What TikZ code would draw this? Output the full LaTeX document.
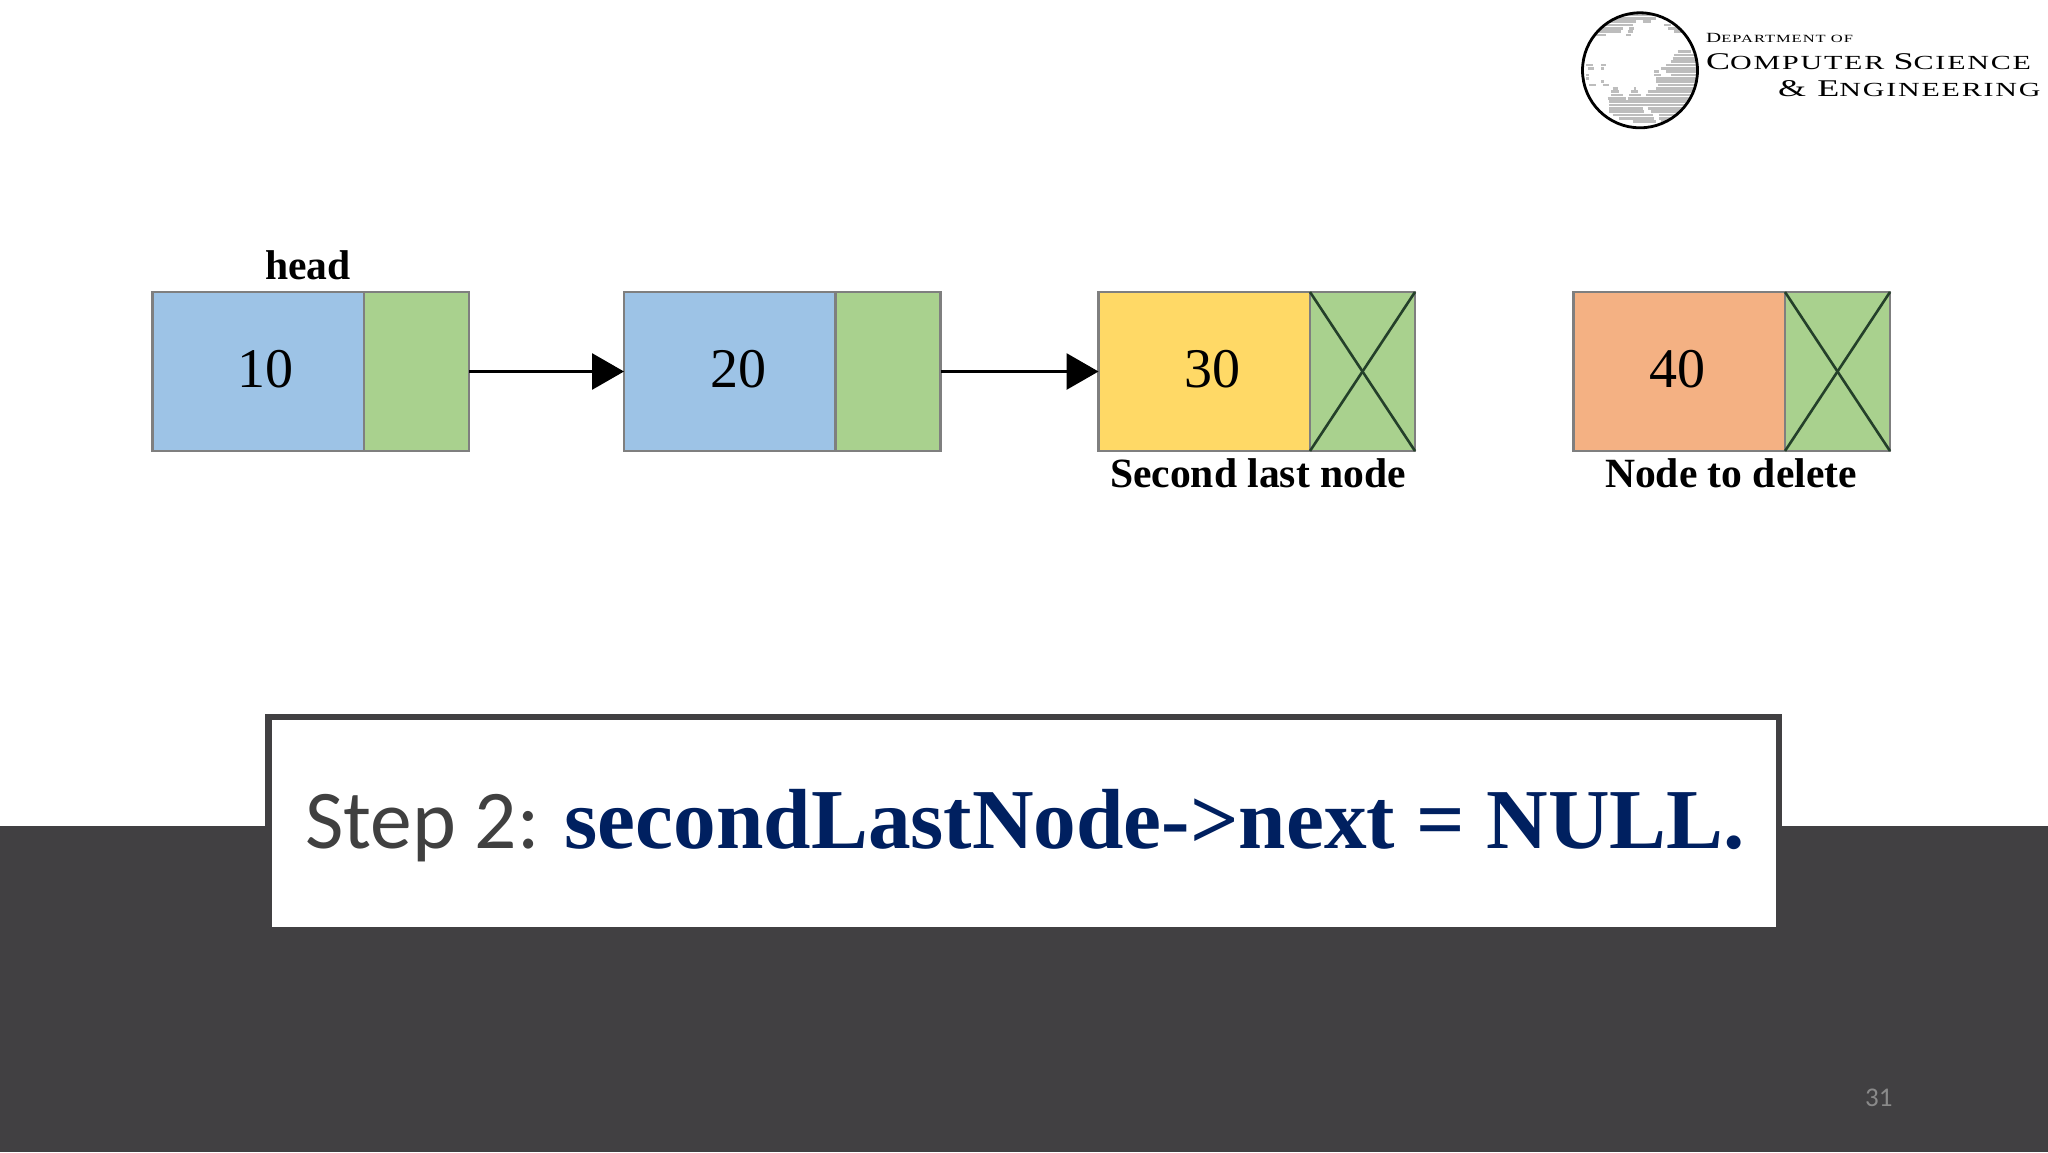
\documentclass[tikz,border=0pt]{standalone}
\usepackage{fontspec}
\usetikzlibrary{arrows.meta}
\setmainfont{Liberation Serif}
\newfontfamily\calfont{Carlito}
\newfontfamily\logofont[FakeStretch=1.5,LetterSpace=9]{Liberation Serif}
\definecolor{band}{HTML}{414042}
\definecolor{bluecell}{HTML}{9DC3E6}
\definecolor{greencell}{HTML}{A9D18E}
\definecolor{yellowcell}{HTML}{FFD966}
\definecolor{orangecell}{HTML}{F4B183}
\definecolor{cellline}{HTML}{7F7F7F}
\definecolor{navy}{HTML}{002060}
\definecolor{stepgray}{HTML}{404040}
\definecolor{pagegray}{HTML}{8A8A8A}
\definecolor{landgray}{HTML}{BDBDBD}
\definecolor{crossline}{HTML}{24402A}
\newcommand{\fs}[1]{\fontsize{#1}{#1}\selectfont}
\tikzset{
  datacell/.style={draw=cellline,line width=2.6pt,anchor=north west,inner sep=0pt,outer sep=0pt,minimum width=211.5pt,minimum height=159pt},
  ptrcell/.style={draw=cellline,line width=2.6pt,fill=greencell,anchor=north west,inner sep=0pt,outer sep=0pt,minimum width=105pt,minimum height=159pt},
  numlabel/.style={font=\fs{56},text=black,inner sep=0pt,anchor=center},
  caption/.style={font=\fs{41.6}\bfseries,text=black,inner sep=0pt,anchor=base},
  link/.style={draw=black,line width=3pt,-{Triangle[length=32pt,width=36pt]}},
  crossed/.style={draw=crossline,line width=2.6pt},
  logotext/.style={inner sep=0pt,anchor=base west,text=black}
}
\begin{document}
\begin{tikzpicture}[x=1pt,y=-1pt]
\useasboundingbox (0,0) rectangle (2048,1152);
\fill[white] (0,0) rectangle (2048,1152);
\fill[band] (0,826) rectangle (2048,1152);

% logo
\begin{scope}
\clip (1640,70.3) circle (57.5pt);
\begin{scope}[shift={(1576,5)},x=0.3333pt,y=-0.3333pt]
\foreach \y/\a/\b in {30/150/230,40/110/240,50/95/180,50/200/225,60/85/170,60/265/285,70/75/140,70/160/175,70/275/310,80/70/135,80/155/170,80/295/320,90/60/90,90/150/165,
140/305/345,150/295/355,160/290/360,170/285/365,180/270/365,180/30/50,180/75/90,190/255/365,190/35/55,190/75/85,200/235/250,200/270/365,210/235/255,210/285/365,210/30/40,220/240/365,220/30/40,230/240/365,230/75/85,240/245/360,240/40/60,240/80/100,
250/110/125,250/175/180,250/240/360,260/105/130,260/165/185,260/215/355,270/105/140,270/160/195,270/210/350,280/95/150,280/155/345,290/100/340,300/100/335,310/100/200,310/215/330,320/100/205,320/225/320,330/110/230,330/250/310,340/130/235,340/250/290,350/170/240,350/255/270}
  \draw[landgray,line width=2.4pt] (\a,\y) -- (\b,\y);
\end{scope}
\end{scope}
\node[draw=black,line width=2.8pt,circle,minimum size=115pt,inner sep=0pt] (globe) at (1640,70.3) {};
\node[logotext] (dept) at (1706,42.7) {\logofont\fs{14}D\fs{11}EPARTMENT OF};
\node[logotext] (cs) at (1706,69) {\logofont\fs{24}C\fs{20}OMPUTER \fs{24}S\fs{20}CIENCE};
\node[logotext] (eng) at (1778,96.7) {\logofont\fs{24}\&\ E\fs{20}NGINEERING};

% list cells
\node[datacell,fill=bluecell] (a1) at (152.5,292) {};
\node[ptrcell] (b1) at (364,292) {};
\node[datacell,fill=bluecell] (a2) at (624,292) {};
\node[ptrcell] (b2) at (835.5,292) {};
\node[datacell,fill=yellowcell] (a3) at (1098.5,292) {};
\node[ptrcell] (b3) at (1310,292) {};
\node[datacell,fill=orangecell] (a4) at (1573.5,292) {};
\node[ptrcell] (b4) at (1785,292) {};

\node[numlabel] (v1) at (265,369) {10};
\node[numlabel] (v2) at (738,369) {20};
\node[numlabel] (v3) at (1212.5,369) {30};
\node[numlabel] (v4) at (1677,369) {40};

\draw[link] (b1.east) -- (a2.west);
\draw[link] (b2.east) -- (a3.west);

\draw[crossed] (b3.north west) -- (b3.south east);
\draw[crossed] (b3.north east) -- (b3.south west);
\draw[crossed] (b4.north west) -- (b4.south east);
\draw[crossed] (b4.north east) -- (b4.south west);

\node[caption] (headlabel) at (308,279) {head};
\node[caption] (seclabel) at (1258,487) {Second last node};
\node[caption] (dellabel) at (1731,487) {Node to delete};

% statement panel
\node[draw=band,line width=6.5pt,fill=white,anchor=north west,inner sep=0pt,outer sep=0pt,minimum width=1510.5pt,minimum height=213pt] (panel) at (268.5,717) {};
\node[inner sep=0pt,anchor=base west] (stmt) at (305,848) {\fs{83.5}\calfont\color{stepgray}Step 2: \fs{85.3}\rmfamily\bfseries\color{navy}secondLastNode->next = NULL.};

\node[inner sep=0pt,anchor=base west,text=pagegray] (pagenum) at (1865,1106.7) {\calfont\fs{27}31};
\end{tikzpicture}
\end{document}
